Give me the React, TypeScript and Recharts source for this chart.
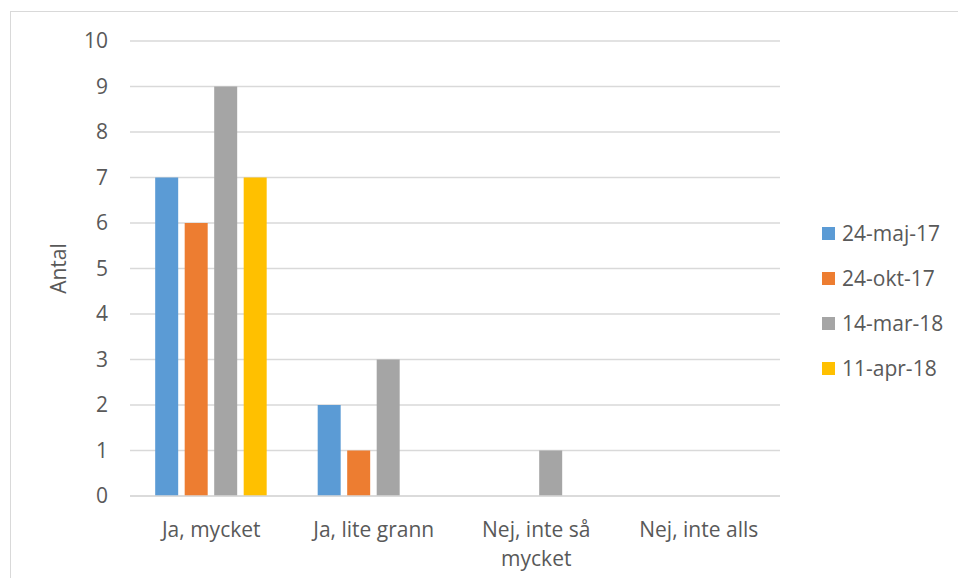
import React from "react";
import {
  BarChart,
  Bar,
  XAxis,
  YAxis,
  CartesianGrid,
  Text,
} from "recharts";

const categories = ["Ja, mycket", "Ja, lite grann", "Nej, inte så mycket", "Nej, inte alls"];

const seriesNames = ["24-maj-17", "24-okt-17", "14-mar-18", "11-apr-18"];
const seriesColors = ["#5B9BD5", "#ED7D31", "#A5A5A5", "#FFC000"];

const maj17 = [7, 2, 0, 0];
const okt17 = [6, 1, 0, 0];
const mar18 = [9, 3, 1, 0];
const apr18 = [7, 0, 0, 0];

const yTicks = [0, 1, 2, 3, 4, 5, 6, 7, 8, 9, 10];

const seriesValues = [maj17, okt17, mar18, apr18];

const data = categories.map((name, i) => {
  const row: Record<string, string | number> = { name };
  seriesNames.forEach((s, j) => {
    row[s] = seriesValues[j][i];
  });
  return row;
});

const FONT = "'Open Sans', 'Liberation Sans', sans-serif";
const TEXT_COLOR = "#595959";
const GRID_COLOR = "#D9D9D9";

// greedy word wrap, category labels are short so a char limit is enough
function wrapLabel(label: string, maxChars = 15): string[] {
  const lines: string[] = [];
  let cur = "";
  label.split(" ").forEach((w) => {
    const next = cur ? cur + " " + w : w;
    if (next.length > maxChars && cur) {
      lines.push(cur);
      cur = w;
    } else {
      cur = next;
    }
  });
  if (cur) lines.push(cur);
  return lines;
}

function CategoryTick(props: any) {
  const { x, y, payload } = props;
  const lines = wrapLabel(String(payload.value));
  return (
    <text
      x={x}
      y={y}
      textAnchor="middle"
      fill={TEXT_COLOR}
      fontSize={21}
      fontFamily={FONT}
    >
      {lines.map((l, i) => (
        <tspan key={i} x={x} dy={i === 0 ? "0.71em" : "1.4em"}>
          {l}
        </tspan>
      ))}
    </text>
  );
}

function AntalLabel(props: any) {
  const vb = props.viewBox || { y: 41, height: 455 };
  return (
    <Text
      x={59}
      y={vb.y + vb.height / 2}
      angle={-90}
      textAnchor="middle"
      verticalAnchor="middle"
      fill={TEXT_COLOR}
      fontSize={21}
      fontFamily={FONT}
    >
      Antal
    </Text>
  );
}

export default function App() {
  return (
    <div
      style={{
        position: "absolute",
        left: 0,
        top: 0,
        width: 958,
        height: 578,
        overflow: "hidden",
        background: "#fff",
        fontFamily: FONT,
      }}
    >
      <div
        style={{
          position: "absolute",
          left: 10,
          top: 11,
          width: 1000,
          height: 1000,
          border: `1.5px solid ${GRID_COLOR}`,
        }}
      />
      <div style={{ position: "absolute", left: 0, top: 0 }}>
        <BarChart
          width={958}
          height={578}
          data={data}
          margin={{ top: 41, right: 178, left: 0, bottom: 22 }}
          barCategoryGap="15.5%"
          barGap={6.5}
        >
          <CartesianGrid
            vertical={false}
            stroke={GRID_COLOR}
            strokeWidth={1.5}
          />
          <XAxis
            dataKey="name"
            height={60}
            tickLine={false}
            tickSize={0}
            tickMargin={26}
            axisLine={{ stroke: GRID_COLOR, strokeWidth: 1.5 }}
            tick={<CategoryTick />}
            interval={0}
          />
          <YAxis
            width={130}
            domain={[0, 10]}
            ticks={yTicks}
            interval={0}
            tickLine={false}
            tickSize={0}
            tickMargin={22}
            axisLine={false}
            tick={{ fill: TEXT_COLOR, fontSize: 21, fontFamily: FONT }}
            label={(p: any) => <AntalLabel {...p} />}
          />
          {seriesNames.map((s, j) => (
            <Bar
              key={s}
              dataKey={s}
              fill={seriesColors[j]}
              isAnimationActive={false}
            />
          ))}
        </BarChart>
      </div>
      <div
        style={{
          position: "absolute",
          left: 822,
          top: 210.5,
          display: "flex",
          flexDirection: "column",
        }}
      >
        {seriesNames.map((s, j) => (
          <div
            key={s}
            style={{
              height: 45,
              display: "flex",
              alignItems: "center",
              color: TEXT_COLOR,
              fontSize: 21,
              whiteSpace: "nowrap",
            }}
          >
            <span
              style={{
                display: "inline-block",
                width: 13,
                height: 13,
                background: seriesColors[j],
                marginRight: 7,
              }}
            />
            {s}
          </div>
        ))}
      </div>
    </div>
  );
}
